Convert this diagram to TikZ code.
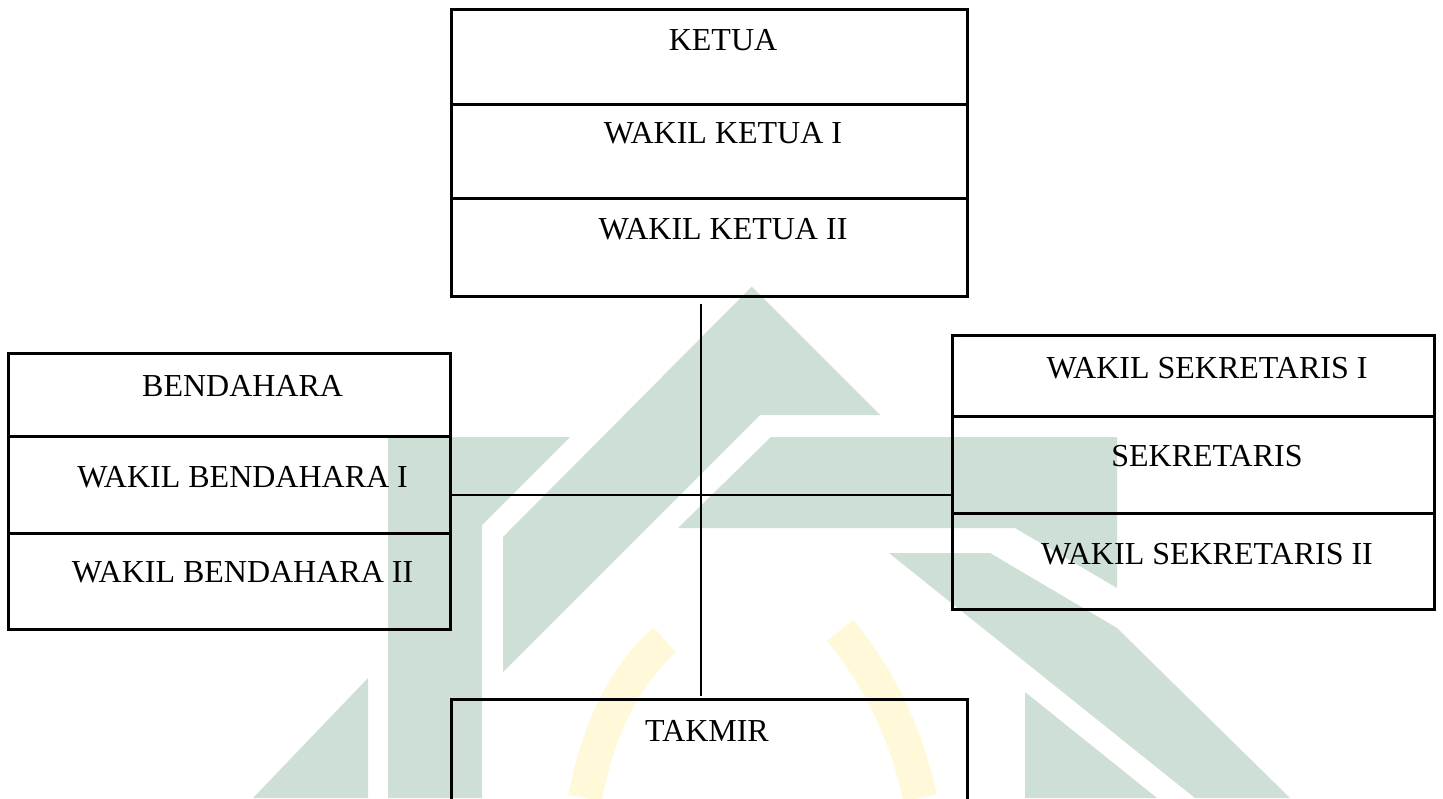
\documentclass[tikz,border=0pt]{standalone}
\usepackage{fontspec}
\setmainfont{Liberation Serif}
\usepackage{xcolor}
\usetikzlibrary{positioning,calc}
\definecolor{wmgreen}{RGB}{206,223,213}
\definecolor{wmyellow}{RGB}{255,249,218}

\begin{document}
\begin{tikzpicture}[
  x=0.5pt, y=-0.5pt,
  cell/.style={draw, line width=1.5pt, outer sep=0pt, inner sep=0pt},
  lbl/.style={font=\fontsize{16pt}{19pt}\selectfont, anchor=base, inner sep=0pt},
  garis/.style={line width=1pt}
]
\useasboundingbox (0,0) rectangle (1443,798);
\clip (0,0) rectangle (1443,798);

% watermark behind the chart
\fill[wmgreen] (751.7,286.7) -- (880,415) -- (760,415) -- (503,672) -- (503,537) -- cycle;
\fill[wmgreen] (388,437) -- (570,437) -- (482,525) -- (482,798) -- (388,798) -- cycle;
\fill[wmgreen] (368,678) -- (368,798) -- (253,798) -- cycle;
\fill[wmgreen] (771,437) -- (1117,437) -- (1117,588) -- (1015,528) -- (678,528) -- cycle;
\fill[wmgreen] (889,553) -- (990,553) -- (1117,628) -- (1290,798) -- (1195,798) -- cycle;
\fill[wmgreen] (1025,692) -- (1157,798) -- (1025,798) -- cycle;
\draw[wmyellow, line width=17pt] (585,798) .. controls (600,720) and (630,670) .. (665,640);
\draw[wmyellow, line width=17pt] (840,630) .. controls (880,680) and (905,730) .. (920,798);

% ketua block
\node[cell, anchor=north west, minimum width=258pt, minimum height=47.5pt] (ketua) at (451,9) {};
\node[cell, minimum width=258pt, minimum height=47pt, below=0pt of ketua] (wketua1) {};
\node[cell, minimum width=258pt, minimum height=49pt, below=0pt of wketua1] (wketua2) {};
\node[lbl] (tketua) at ([xshift=7pt,yshift=-20.5pt]ketua.north) {KETUA};
\node[lbl] (twketua1) at ([xshift=7pt,yshift=-19.8pt]wketua1.north) {WAKIL KETUA I};
\node[lbl] (twketua2) at ([xshift=7pt,yshift=-20.5pt]wketua2.north) {WAKIL KETUA II};

% bendahara block
\node[cell, anchor=north west, minimum width=221pt, minimum height=41.5pt] (bendahara) at (8,353) {};
\node[cell, minimum width=221pt, minimum height=48.5pt, below=0pt of bendahara] (wbendahara1) {};
\node[cell, minimum width=221pt, minimum height=48pt, below=0pt of wbendahara1] (wbendahara2) {};
\node[lbl] (tbendahara) at ([xshift=6.8pt,yshift=-21.7pt]bendahara.north) {BENDAHARA};
\node[lbl] (twbendahara1) at ([xshift=6.8pt,yshift=-25.6pt]wbendahara1.north) {WAKIL BENDAHARA I};
\node[lbl] (twbendahara2) at ([xshift=6.8pt,yshift=-24.8pt]wbendahara2.north) {WAKIL BENDAHARA II};

% sekretaris block
\node[cell, anchor=north west, minimum width=241pt, minimum height=40.5pt] (wsekretaris1) at (952,335) {};
\node[cell, minimum width=241pt, minimum height=48.5pt, below=0pt of wsekretaris1] (sekretaris) {};
\node[cell, minimum width=241pt, minimum height=48pt, below=0pt of sekretaris] (wsekretaris2) {};
\node[lbl] (twsekretaris1) at ([xshift=7pt,yshift=-21.5pt]wsekretaris1.north) {WAKIL SEKRETARIS I};
\node[lbl] (tsekretaris) at ([xshift=7pt,yshift=-25.2pt]sekretaris.north) {SEKRETARIS};
\node[lbl] (twsekretaris2) at ([xshift=7pt,yshift=-25.6pt]wsekretaris2.north) {WAKIL SEKRETARIS II};

% takmir
\node[cell, anchor=north west, minimum width=258pt, minimum height=75pt] (takmir) at (451,699) {};
\node[lbl] (ttakmir) at ([xshift=-1pt,yshift=-21pt]takmir.north) {TAKMIR};

% connectors
\coordinate (hub) at (701,495);
\draw[garis] ($(wketua2.south -| hub)+(0,8)$) -- ($(takmir.north -| hub)+(0,-3)$);
\draw[garis] (wbendahara1.east |- hub) -- (sekretaris.west |- hub);
\end{tikzpicture}
\end{document}
